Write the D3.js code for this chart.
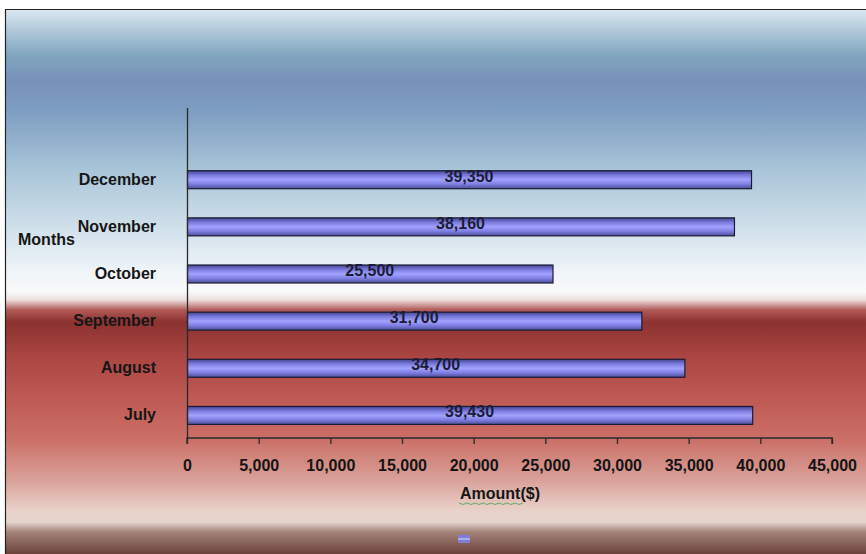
<!DOCTYPE html>
<html>
<head>
<meta charset="utf-8">
<script src="https://cdn.jsdelivr.net/npm/d3@7"></script>
<style>
  html, body { margin: 0; padding: 0; background: #ffffff; }
  svg { display: block; }
  text { font-family: "Liberation Sans", Arial, sans-serif; font-weight: bold; }
</style>
</head>
<body>
<svg id="chart" width="866" height="554"></svg>
<script>
// Monthly amounts, listed bottom-to-top as plotted
const months = ["July", "August", "September", "October", "November", "December"];
const amounts = [39430, 34700, 31700, 25500, 38160, 39350];
const xTicks = [0, 5000, 10000, 15000, 20000, 25000, 30000, 35000, 40000, 45000];
const xTitle = "Amount($)";
const yTitle = "Months";

const svg = d3.select("#chart");
const W = 866, H = 554;
const frame = { left: 5, top: 9 };
const plot = { left: 187, right: 832, top: 108, bottom: 438 };

const defs = svg.append("defs");

// Chart area backdrop: blue sky fading to white, then a deep red band fading out
const bg = defs.append("linearGradient").attr("id", "bg")
  .attr("x1", 0).attr("y1", 0).attr("x2", 0).attr("y2", 1);
const bgStops = [
  [9, "#dde9f2"], [30, "#b2c9d9"], [55, "#80a6bf"], [80, "#7891b9"],
  [110, "#7d9dc1"], [170, "#a9c5d8"], [230, "#d2e1eb"], [270, "#eef4f8"],
  [292, "#f9f9f9"], [300, "#ecdcdc"], [310, "#b05a58"], [322, "#8c3230"],
  [360, "#ad4744"], [400, "#bf5a54"], [440, "#cb7068"], [480, "#d9a199"],
  [510, "#e8d1c9"], [522, "#e5d5cd"], [532, "#a38379"], [554, "#6c423a"]
];
bgStops.forEach(([y, c]) => bg.append("stop")
  .attr("offset", (y - frame.top) / (H - frame.top)).attr("stop-color", c));

// Cylinder-like shading for the bars
const barGrad = defs.append("linearGradient").attr("id", "bar")
  .attr("x1", 0).attr("y1", 0).attr("x2", 0).attr("y2", 1);
[[0, "#434390"], [0.25, "#7a7ade"], [0.5, "#a2a2ff"], [0.75, "#7e7ee2"], [1, "#4c4c96"]]
  .forEach(([o, c]) => barGrad.append("stop").attr("offset", o).attr("stop-color", c));

svg.append("rect")
  .attr("x", frame.left).attr("y", frame.top)
  .attr("width", W - frame.left).attr("height", H - frame.top)
  .attr("fill", "url(#bg)");

// Frame edges
svg.append("path")
  .attr("d", `M${frame.left + 0.5},${H} V${frame.top + 0.5} H${W}`)
  .attr("fill", "none").attr("stroke", "#222").attr("stroke-width", 1.2);

// Scales
const x = d3.scaleLinear().domain([0, 45000]).range([plot.left, plot.right]);
const slot = (plot.bottom - plot.top) / (months.length + 1);
const y = d3.scaleBand().domain(months)
  .range([plot.bottom, plot.bottom - months.length * slot]).padding(0);
const barH = 18;
const mid = d => y(d) + y.bandwidth() / 2 + 1;

// Bars
const data = months.map((m, i) => ({ month: m, value: amounts[i] }));
svg.append("g").selectAll("rect").data(data).join("rect")
  .attr("x", plot.left + 0.5)
  .attr("y", d => mid(d.month) - barH / 2)
  .attr("width", d => x(d.value) - plot.left)
  .attr("height", barH)
  .attr("fill", "url(#bar)")
  .attr("stroke", "#1c1c34").attr("stroke-width", 1.2);

// Value labels centred on each bar
svg.append("g").selectAll("text").data(data).join("text")
  .attr("x", d => (plot.left + x(d.value)) / 2)
  .attr("y", d => mid(d.month) + 2)
  .attr("text-anchor", "middle")
  .attr("font-size", 16)
  .attr("fill", "#1c1c36")
  .text(d => d3.format(",")(d.value));

// X axis
const xAxis = d3.axisBottom(x).tickValues(xTicks).tickFormat(d3.format(",")).tickSize(6).tickPadding(16);
const gx = svg.append("g").attr("transform", `translate(0,${plot.bottom})`).call(xAxis);
gx.select(".domain").attr("stroke", "#2a2a2a").attr("stroke-width", 1.3).attr("d", `M${plot.left},6V0H${plot.right}V6`);
gx.selectAll(".tick line").attr("stroke", "#2a2a2a").attr("stroke-width", 1.3);
gx.selectAll(".tick text")
  .attr("font-family", "'Liberation Sans', Arial, sans-serif")
  .attr("font-weight", "bold").attr("font-size", 16).attr("fill", "#141414");

// Y axis line spans one empty slot above the top category
svg.append("line")
  .attr("x1", plot.left + 0.5).attr("x2", plot.left + 0.5)
  .attr("y1", plot.top).attr("y2", plot.bottom)
  .attr("stroke", "#2a2a2a").attr("stroke-width", 1.3);

svg.append("g").selectAll("text").data(months).join("text")
  .attr("x", 156)
  .attr("y", d => mid(d) + 5)
  .attr("text-anchor", "end")
  .attr("font-size", 16)
  .attr("fill", "#161616")
  .text(d => d);

// Axis titles
svg.append("text")
  .attr("x", 500).attr("y", 499)
  .attr("text-anchor", "middle")
  .attr("font-size", 16).attr("fill", "#161616")
  .text(xTitle);

// Spell-check squiggle under the title word
const squiggle = d3.range(0, 17).map(i => [459 + i * 4, 503 + (i % 2 ? 1.5 : 0)]);
svg.append("path")
  .attr("d", d3.line()(squiggle))
  .attr("fill", "none").attr("stroke", "#5aa85a").attr("stroke-width", 0.9);

svg.append("text")
  .attr("x", 18).attr("y", 245)
  .attr("font-size", 16).attr("fill", "#161616")
  .text(yTitle);

// Legend key
const key = svg.append("g").attr("transform", "translate(458,535)");
key.append("rect").attr("width", 12).attr("height", 8).attr("fill", "#8080e0").attr("opacity", 0.9);
key.append("line").attr("x1", 0).attr("x2", 12).attr("y1", 4).attr("y2", 4)
  .attr("stroke", "#c8c8ff").attr("stroke-width", 1.2);
</script>
</body>
</html>
